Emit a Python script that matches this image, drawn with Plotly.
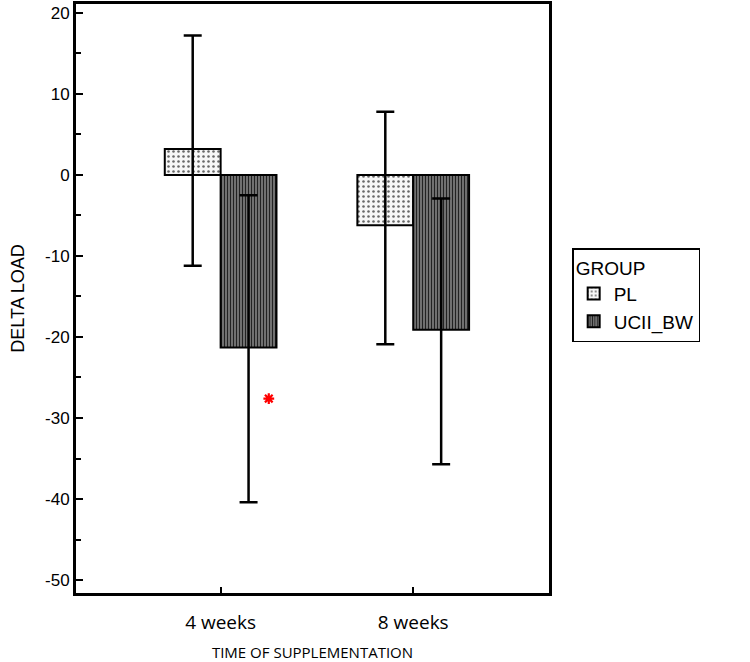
import plotly.graph_objects as go

categories = ["4 weeks", "8 weeks"]
cat_pos = [0, 1]
pl_mean = [3.2, -6.2]
pl_upper = [17.2, 7.8]
pl_lower = [-11.2, -20.9]
ucii_mean = [-21.3, -19.1]
ucii_upper = [-2.5, -2.9]
ucii_lower = [-40.4, -35.7]
y_ticks = [20, 10, 0, -10, -20, -30, -40, -50]
y_tick_labels = ["20", "10", "0", "-10", "-20", "-30", "-40", "-50"]
star_x = [0.25]
star_y = [-27.6]

def err(mean, up, lo):
    return dict(type="data", symmetric=False,
                array=[u - m for u, m in zip(up, mean)],
                arrayminus=[m - l for m, l in zip(mean, lo)],
                color="black", thickness=2.5, width=9)

fig = go.Figure()
fig.add_trace(go.Bar(
    x=cat_pos, y=pl_mean, name="PL", offsetgroup="a",
    marker=dict(color="white", line=dict(color="black", width=2),
                pattern=dict(shape=".", fgcolor="#666666", bgcolor="#f6f6f6",
                             size=5, solidity=0.2, fillmode="replace")),
    error_y=err(pl_mean, pl_upper, pl_lower)))
fig.add_trace(go.Bar(
    x=cat_pos, y=ucii_mean, name="UCII_BW", offsetgroup="b",
    marker=dict(color="#777777", line=dict(color="black", width=2),
                pattern=dict(shape="|", fgcolor="#222222", bgcolor="#8a8a8a",
                             size=3, solidity=0.5, fillmode="replace")),
    error_y=err(ucii_mean, ucii_upper, ucii_lower)))

fig.add_trace(go.Scatter(x=star_x, y=star_y, mode="markers",
                         marker=dict(symbol="asterisk-open", size=9, color="red",
                                     line=dict(color="red", width=2.2)),
                         showlegend=False, hoverinfo="skip"))

fig.update_layout(
    width=750, height=662,
    margin=dict(l=76, r=201, t=4, b=69, autoexpand=False),
    plot_bgcolor="white", paper_bgcolor="white",
    barmode="group", bargap=0.42, bargroupgap=0,
    font=dict(family="Arial", color="black"),
    legend=dict(x=1.049, y=0.585, xanchor="left", yanchor="top",
                bordercolor="black", borderwidth=1.5,
                title=dict(text="GROUP", font=dict(size=19)),
                font=dict(size=19), itemwidth=30,
                entrywidth=130, entrywidthmode="pixels",
                traceorder="normal"),
    showlegend=True,
)
fig.update_xaxes(
    range=[-0.751, 1.705], tickvals=cat_pos, ticktext=categories,
    showline=True, linecolor="black", linewidth=3, mirror=True,
    ticks="inside", ticklen=6, tickwidth=2, tickcolor="black",
    tickfont=dict(family="Open Sans", size=19), ticklabelstandoff=10,
    showgrid=False, zeroline=False, automargin=False,
    title=dict(text="TIME OF SUPPLEMENTATION",
               font=dict(family="Open Sans", size=15), standoff=22),
)
fig.update_yaxes(
    range=[-51.6, 21.1], tickvals=y_ticks, ticktext=y_tick_labels,
    showline=True, linecolor="black", linewidth=3, mirror=True,
    ticks="inside", ticklen=7, tickwidth=2, tickcolor="black",
    minor=dict(ticks="inside", ticklen=5, tickwidth=1.5, tickcolor="black", dtick=5),
    tickfont=dict(family="Arial", size=17),
    showgrid=False, zeroline=False, automargin=False,
    title=dict(text="DELTA LOAD", font=dict(family="Arial", size=18), standoff=16),
)

fig.write_html("out.html", config={"displayModeBar": False},
               post_script="document.body.style.margin='0';document.body.style.padding='0';")
